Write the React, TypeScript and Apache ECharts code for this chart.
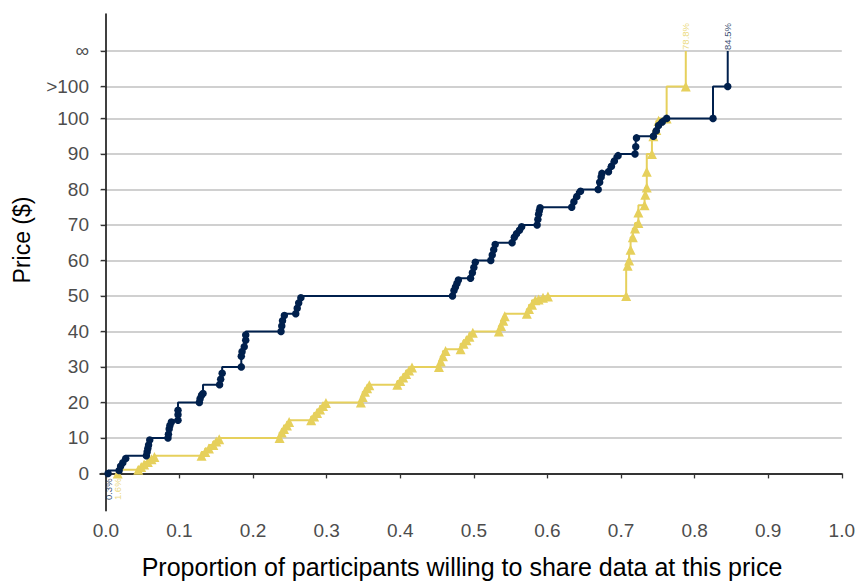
import React, { useEffect, useRef } from "react";
import * as echarts from "echarts";

// Proportion of participants (x) and price level (y) for each series
const navyProportion = [
  0.003, 0.018, 0.02, 0.023, 0.027, 0.055, 0.056, 0.057, 0.058, 0.0596,
  0.0844, 0.085, 0.086, 0.087, 0.089, 0.098, 0.098, 0.098, 0.127, 0.128,
  0.13, 0.132, 0.1545, 0.156, 0.158, 0.184, 0.184, 0.185, 0.188, 0.19,
  0.19, 0.238, 0.239, 0.24, 0.2425, 0.258, 0.26, 0.262, 0.265, 0.471,
  0.473, 0.475, 0.477, 0.479, 0.4955, 0.498, 0.5, 0.502, 0.523, 0.525,
  0.527, 0.529, 0.552, 0.555, 0.558, 0.562, 0.565, 0.586, 0.587, 0.588,
  0.589, 0.59, 0.633, 0.636, 0.64, 0.645, 0.669, 0.671, 0.673, 0.674,
  0.683, 0.687, 0.691, 0.696, 0.719, 0.72, 0.721, 0.744, 0.748, 0.751,
  0.756, 0.762, 0.825, 0.845, 0.845,
];
const navyPrice = [
  0, 0.8, 2, 3, 4.2, 5, 6, 7, 8, 9.4,
  10, 11, 12.5, 13.5, 14.5, 15, 16.5, 17.8, 20, 21,
  22, 22.5, 25, 26.5, 28.2, 30, 33, 34.3, 35.7, 37.5,
  39, 40, 41.5, 43, 44.5, 45, 46.5, 48, 49.5, 50,
  51.5, 52.5, 53.5, 54.5, 55, 56.5, 58, 59.5, 60, 61.5,
  63, 64.5, 65, 66.5, 67.5, 68.5, 69.5, 70, 71.5, 73,
  74, 74.8, 75, 76.5, 78, 79.5, 80, 82, 83.5, 84.5,
  85, 86.5, 88, 89.5, 90, 92, 94.5, 95, 96.5, 98,
  99, 100, 100, 109, 119,
];

const yellowProportion = [
  0.016, 0.044, 0.048, 0.052, 0.057, 0.062, 0.066, 0.13, 0.135, 0.14,
  0.146, 0.15, 0.154, 0.236, 0.239, 0.242, 0.246, 0.249, 0.279, 0.283,
  0.287, 0.291, 0.295, 0.299, 0.3465, 0.349, 0.352, 0.355, 0.358, 0.396,
  0.4, 0.404, 0.408, 0.412, 0.416, 0.4526, 0.455, 0.458, 0.4616, 0.482,
  0.486, 0.49, 0.494, 0.4986, 0.534, 0.537, 0.54, 0.542, 0.572, 0.575,
  0.579, 0.5836, 0.588, 0.594, 0.6007, 0.707, 0.709, 0.711, 0.713, 0.716,
  0.719, 0.7236, 0.7236, 0.732, 0.733, 0.735, 0.735, 0.742, 0.744, 0.748,
  0.751, 0.762, 0.788, 0.788,
];
const yellowPrice = [
  0, 1, 1.8, 2.5, 3.2, 4, 4.6, 5, 6, 7,
  8, 9, 9.6, 10, 11.5, 12.5, 13.5, 14.5, 15, 16,
  17, 18, 19, 19.8, 20, 21.5, 23, 24, 24.8, 25,
  26, 27, 28, 29, 29.8, 30, 31.5, 33, 34.5, 35,
  36.5, 37.5, 38.5, 39.6, 40, 41.5, 43, 44.3, 45, 46.3,
  47.5, 48.8, 49, 49.5, 49.8, 50, 58.5, 60, 63, 66.5,
  69, 70.5, 73.5, 75.5, 78.5, 80.5, 85, 90, 95, 96.7,
  99.3, 100, 109, 119,
];

const xTickValues = [0, 0.1, 0.2, 0.3, 0.4, 0.5, 0.6, 0.7, 0.8, 0.9, 1.0];
const yTickValues = [0, 10, 20, 30, 40, 50, 60, 70, 80, 90, 100, 109, 119];
const yTickLabels = ["0", "10", "20", "30", "40", "50", "60", "70", "80", "90", "100", ">100", "∞"];

const NAVY = "#00204D";
const YELLOW = "#E6D05C";
const FONT = "'Liberation Sans', Arial, sans-serif";

function buildData(xs: number[], ys: number[]) {
  return xs.map((x, i) =>
    i === xs.length - 1 ? { value: [x, ys[i]], symbol: "none" } : [x, ys[i]]
  );
}

function endLabels(xs: number[], ys: number[]) {
  const n = xs.length - 1;
  return [
    {
      value: [xs[0], ys[0]],
      label: { position: "bottom", align: "right", verticalAlign: "middle", rotate: 90, distance: 5 },
    },
    {
      value: [xs[n], ys[n]],
      label: { position: "top", align: "left", verticalAlign: "middle", rotate: 90, distance: 1 },
    },
  ];
}

export default function App() {
  const ref = useRef<HTMLDivElement>(null);
  useEffect(() => {
    if (!ref.current) return;
    const chart = echarts.init(ref.current, undefined, { renderer: "svg" });
    const pctFormatter = (p: any) => (p.value[0] * 100).toFixed(1) + "%";
    chart.setOption({
      animation: false,
      backgroundColor: "#ffffff",
      textStyle: { fontFamily: FONT },
      grid: { left: 100, right: 14, top: 14, bottom: 70.3 },
      xAxis: {
        type: "value",
        min: -0.008,
        max: 1.0,
        axisLine: { show: true, lineStyle: { color: "#000", width: 1.5 } },
        axisTick: { show: true, length: 5, customValues: xTickValues, lineStyle: { color: "#333", width: 1.3 } },
        axisLabel: {
          customValues: xTickValues,
          formatter: (v: number) => v.toFixed(1),
          color: "#4D4D4D",
          fontSize: 19,
          fontFamily: FONT,
          margin: 10,
        },
        splitLine: { show: false },
      },
      yAxis: {
        type: "value",
        min: -10.5,
        max: 129.4,
        axisLine: { show: true, lineStyle: { color: "#000", width: 1.5 } },
        axisTick: { show: true, length: 5, customValues: yTickValues, lineStyle: { color: "#333", width: 1.3 } },
        axisLabel: {
          customValues: yTickValues,
          formatter: (v: number) => {
            const i = yTickValues.indexOf(v);
            return i >= 0 ? yTickLabels[i] : "";
          },
          color: "#4D4D4D",
          fontSize: 19,
          fontFamily: FONT,
          margin: 11,
        },
        splitLine: { show: true, lineStyle: { color: "#D0D0D0", width: 1.8 } },
      },
      graphic: [
        {
          type: "text",
          x: 22,
          y: 240,
          rotation: Math.PI / 2,
          style: {
            text: "Price ($)",
            fill: "#000",
            fontSize: 23,
            fontFamily: FONT,
            align: "center",
            verticalAlign: "middle",
          },
        },
        {
          type: "text",
          x: 462,
          y: 567,
          style: {
            text: "Proportion of participants willing to share data at this price",
            fill: "#000",
            fontSize: 25,
            fontFamily: FONT,
            align: "center",
            verticalAlign: "middle",
          },
        },
      ],
      series: [
        {
          type: "line",
          name: "yellow",
          step: "start",
          data: buildData(yellowProportion, yellowPrice),
          symbol: "triangle",
          symbolSize: 10,
          showSymbol: true,
          itemStyle: { color: YELLOW },
          lineStyle: { color: YELLOW, width: 2 },
          z: 2,
        },
        {
          type: "line",
          name: "navy",
          step: "start",
          data: buildData(navyProportion, navyPrice),
          symbol: "circle",
          symbolSize: 7.5,
          showSymbol: true,
          itemStyle: { color: NAVY },
          lineStyle: { color: NAVY, width: 2 },
          z: 3,
        },
        {
          type: "scatter",
          symbolSize: 0,
          silent: true,
          data: endLabels(yellowProportion, yellowPrice),
          label: { show: true, formatter: pctFormatter, color: YELLOW, fontSize: 9.5, fontFamily: FONT },
          z: 4,
        },
        {
          type: "scatter",
          symbolSize: 0,
          silent: true,
          data: endLabels(navyProportion, navyPrice),
          label: { show: true, formatter: pctFormatter, color: NAVY, fontSize: 9.5, fontFamily: FONT },
          z: 4,
        },
      ],
    });
    return () => chart.dispose();
  }, []);
  return (
    <div
      ref={ref}
      style={{ position: "fixed", left: 0, top: 0, width: 858, height: 581, background: "#fff" }}
    />
  );
}
